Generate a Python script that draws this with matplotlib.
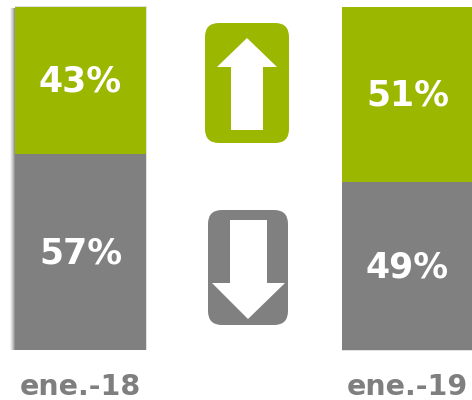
import numpy as np
from matplotlib import pyplot as plt
from matplotlib.patches import FancyBboxPatch, Polygon, Rectangle

months = ["ene.-18", "ene.-19"]
green_pct = [43, 51]
grey_pct = [57, 49]

GREEN = "#9cb700"
GREY = "#808080"
W, H = 472, 400

fig = plt.figure(figsize=(W / 100, H / 100), dpi=100)
plt.rcParams["font.family"] = "DejaVu Sans"

# overlay in pixel coords for the icons and shadows
bg = fig.add_axes([0, 0, 1, 1])
bg.set_xlim(0, W)
bg.set_ylim(H, 0)
bg.axis("off")

# soft shadow left of the first bar
for i, a in zip(range(5, 0, -1), [0.05, 0.07, 0.09, 0.12, 0.16]):
    bg.add_patch(Rectangle((15 - i, 8), i + 5, 342, color="black", alpha=a, lw=0))
bg.add_patch(Rectangle((15, 6), 132, 344, color="black", alpha=0.12, lw=0))
bg.add_patch(Rectangle((342, 8), 130, 343, color="black", alpha=0.12, lw=0))

# bars
ax = fig.add_axes([0, (H - 350) / H, 1, 343 / H], facecolor="none")
x = np.array([80.5, 407.5])
ax.bar(x, grey_pct, width=131, color=GREY)
ax.bar(x, green_pct, width=131, bottom=grey_pct, color=GREEN)
ax.set_xlim(0, W)
ax.set_ylim(0, 100)
ax.axis("off")

green_y = [82, 96]
grey_y = [254, 267]
for i in range(2):
    ax.text(x[i], green_y[i], f"{green_pct[i]}%", color="white", transform=bg.transData,
            fontsize=25, fontweight="bold", ha="center", va="center")
    ax.text(x[i], grey_y[i], f"{grey_pct[i]}%", color="white", transform=bg.transData,
            fontsize=25, fontweight="bold", ha="center", va="center")
    bg.text(x[i], 387, months[i], color="#7f7f7f", fontsize=20.5, fontweight="bold", ha="center", va="center")

# up arrow icon
bg.add_patch(FancyBboxPatch((217, 35), 60, 96, boxstyle="round,pad=12,rounding_size=14", color=GREEN, lw=0))
bg.add_patch(Polygon([(247, 38), (277, 67), (263, 67), (263, 130), (231, 130), (231, 67), (217, 67)], color="white", lw=0))

# down arrow icon
bg.add_patch(FancyBboxPatch((220, 222), 56, 91, boxstyle="round,pad=12,rounding_size=14", color=GREY, lw=0))
bg.add_patch(Polygon([(230, 220), (267, 220), (267, 283), (285, 283), (248, 319), (212, 283), (230, 283)], color="white", lw=0))

fig.savefig("out.png", dpi=100)
